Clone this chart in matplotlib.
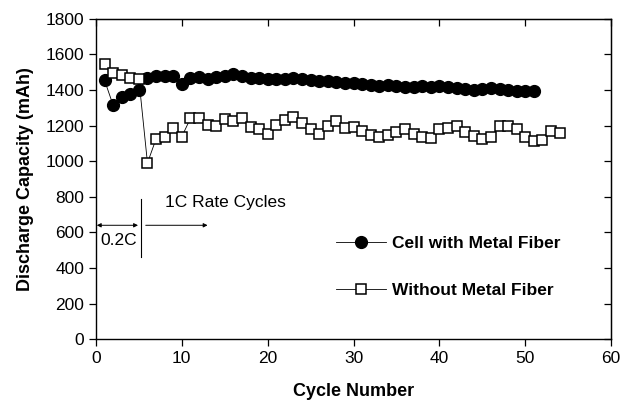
import matplotlib

matplotlib.use("Agg")
import matplotlib.pyplot as plt

plt.rcParams["font.family"] = ["Liberation Sans", "DejaVu Sans"]

# cycle data
cycles_fiber = list(range(1, 52))
cap_fiber = [
    1455, 1315, 1360, 1375, 1400, 1470, 1480, 1480, 1478, 1435,
    1465, 1475, 1460, 1475, 1480, 1490, 1478, 1470, 1465, 1460,
    1462, 1462, 1468, 1462, 1455, 1452, 1450, 1445, 1440, 1437,
    1432, 1428, 1425, 1428, 1420, 1418, 1418, 1420, 1418, 1422,
    1418, 1412, 1405, 1400, 1408, 1412, 1408, 1402, 1395, 1393,
    1396,
]

cycles_plain = list(range(1, 55))
cap_plain = [
    1545, 1493, 1485, 1465, 1460, 990, 1125, 1138, 1184, 1138,
    1240, 1244, 1203, 1197, 1237, 1227, 1240, 1193, 1179, 1155,
    1201, 1229, 1248, 1217, 1180, 1150, 1196, 1225, 1186, 1192,
    1168, 1145, 1138, 1145, 1165, 1179, 1151, 1138, 1132, 1179,
    1188, 1196, 1164, 1140, 1127, 1138, 1196, 1200, 1179, 1138,
    1113, 1117, 1168, 1160,
]

x_ticks = [0, 10, 20, 30, 40, 50, 60]
y_ticks = [0, 200, 400, 600, 800, 1000, 1200, 1400, 1600, 1800]

fig = plt.figure(figsize=(6.23, 4.0), dpi=100)
ax = fig.add_axes([0.154, 0.152, 0.827, 0.801])

ax.plot(cycles_fiber, cap_fiber, "-o", color="black", lw=0.6,
        markersize=8.5, markerfacecolor="black", markeredgecolor="black",
        label="Cell with Metal Fiber")
ax.plot(cycles_plain, cap_plain, "-s", color="black", lw=0.6,
        markersize=7.8, markerfacecolor="white", markeredgecolor="black",
        markeredgewidth=1.1, label="Without Metal Fiber")

# rate annotations
ax.plot([5.3, 5.3], [464, 790], color="black", lw=0.8)
ax.annotate("", xy=(0.1, 640), xytext=(4.9, 640),
            arrowprops=dict(arrowstyle="<|-|>", lw=0.7, color="black",
                            mutation_scale=6, shrinkA=0, shrinkB=0))
ax.annotate("", xy=(13.0, 640), xytext=(5.8, 640),
            arrowprops=dict(arrowstyle="-|>", lw=0.7, color="black",
                            mutation_scale=6, shrinkA=0, shrinkB=0))
ax.text(2.6, 555, "0.2C", ha="center", va="center", fontsize=12.5)
ax.text(8.0, 770, "1C Rate Cycles", ha="left", va="center", fontsize=12.5)

ax.set_xlim(0, 60)
ax.set_ylim(0, 1800)
ax.set_xticks(x_ticks)
ax.set_yticks(y_ticks)
ax.tick_params(axis="both", labelsize=12.5, length=5, width=0.9)

# inward ticks on top and right
top = ax.secondary_xaxis("top")
top.set_xticks(x_ticks)
top.set_xticklabels([])
top.tick_params(direction="in", length=5, width=0.9)
right = ax.secondary_yaxis("right")
right.set_yticks(y_ticks)
right.set_yticklabels([])
right.tick_params(direction="in", length=5, width=0.9)

for s in ax.spines.values():
    s.set_linewidth(1.0)

ax.set_xlabel("Cycle Number", fontsize=13, fontweight="bold", labelpad=12)
ax.set_ylabel("Discharge Capacity (mAh)", fontsize=13, fontweight="bold", labelpad=8)

ax.legend(loc="upper left", bbox_to_anchor=(0.435, 0.37), frameon=False,
          prop={"weight": "bold", "size": 12.5}, handlelength=2.9,
          labelspacing=1.8, handletextpad=0.35, numpoints=1)

fig.savefig("out.png", dpi=100)
